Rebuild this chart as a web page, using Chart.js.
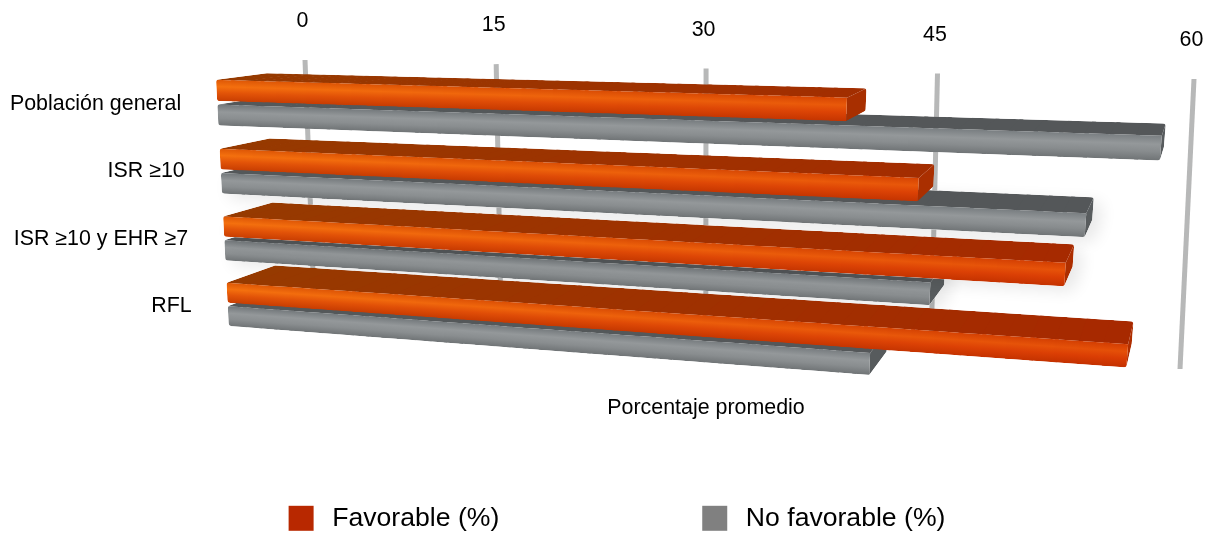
<!DOCTYPE html>
<html>
<head>
<meta charset="utf-8">
<style>html,body{margin:0;padding:0;background:#fff}canvas{display:block}</style>
<script src="https://cdn.jsdelivr.net/npm/chart.js@4/dist/chart.umd.js"></script>
</head>
<body>
<canvas id="c" width="1218" height="540"></canvas>
<script>
const categories = ['Población general', 'ISR ≥10', 'ISR ≥10 y EHR ≥7', 'RFL'];
const favorable = [40.5, 45, 54, 58];
const noFavorable = [59, 55, 46, 42.5];
const seriesNames = ['Favorable (%)', 'No favorable (%)'];
const axisTitle = 'Porcentaje promedio';
const axisMin = 0, axisMax = 60, axisStep = 15;

const FONT = 'Arial, "Liberation Sans", sans-serif';
const TEXT = 21.4;

// Unit-square to quad homography (Heckbert)
function quad(p00, p10, p11, p01, c) {
  const dx1 = p10[0]-p11[0], dx2 = p01[0]-p11[0], sx = p00[0]-p10[0]+p11[0]-p01[0];
  const dy1 = p10[1]-p11[1], dy2 = p01[1]-p11[1], sy = p00[1]-p10[1]+p11[1]-p01[1];
  const d = dx1*dy2-dx2*dy1;
  const g = (sx*dy2-dx2*sy)/d, h = (dx1*sy-sx*dy1)/d;
  const a = p10[0]-p00[0]+g*p10[0], b = p01[0]-p00[0]+h*p01[0], c0 = p00[0];
  const e = p10[1]-p00[1]+g*p10[1], f = p01[1]-p00[1]+h*p01[1], i = p00[1];
  return (t0,u) => {
    const t = c ? c*t0/(1-t0+c*t0) : t0;
    const w = g*t+h*u+1; return [(a*t+b*u+c0)/w, (e*t+f*u+i)/w];
  };
}
// View planes: front faces, back edges of the bars, back wall with the gridlines
const front = quad([215.4,68],[1183,93],[1157,410],[229.3,337],1.08);
const back  = quad([266.5,62],[1186,83],[1161,384],[277,317],1.08);
const wall  = quad([305,60],[1194,79],[1180,369],[314,300]);

const unit = (chart,px,py) => { const a = chart.chartArea; return [(px-a.left)/(a.right-a.left),(py-a.top)/(a.bottom-a.top)]; };
function mix(c1,c2,k){ return 'rgb('+c1.map((v,i)=>Math.round(v+(c2[i]-v)*k)).join(',')+')'; }
function poly(ctx,pts,fill){ ctx.beginPath(); pts.forEach((p,i)=> i?ctx.lineTo(p[0],p[1]):ctx.moveTo(p[0],p[1])); ctx.closePath(); ctx.fillStyle=fill; ctx.fill(); }
function roundedPath(ctx,pts,r){
  const n=pts.length, last=pts[n-1], first=pts[0];
  ctx.beginPath();
  ctx.moveTo((last[0]+first[0])/2,(last[1]+first[1])/2);
  for(let i=0;i<n;i++){ const p=pts[i], q=pts[(i+1)%n]; ctx.arcTo(p[0],p[1],q[0],q[1],r); }
  ctx.closePath();
}

const palette = [
  { stops:[0,.32,.62,1],
    L:[[222,88,6],[244,112,14],[226,84,8],[200,62,2]],
    R:[[210,60,2],[228,78,8],[218,60,4],[196,48,0]],
    top:[[150,58,0],[168,40,0]], cap:[[150,48,0],[176,46,0]] },
  { stops:[0,.35,.65,1],
    L:[[116,121,124],[148,152,154],[138,142,144],[112,116,118]],
    R:[[122,127,130],[148,152,154],[136,140,142],[112,116,118]],
    top:[[84,88,90],[84,87,89]], cap:[[86,90,92],[88,92,94]] }
];

function drawBar(ctx,chart,el,pal,soft){
  const [t1,ua] = unit(chart,el.x,el.y-el.height/2);
  const [,ub]   = unit(chart,el.x,el.y+el.height/2);
  const [t0]    = unit(chart,el.base,el.y);
  const N = 40, lap = 0.004;
  const outline = [front(t0,ub),front(t0,ua),back(t0,ua),back(t1,ua),back(t1,ub),front(t1,ub)];
  if(soft){
    ctx.save();
    ctx.shadowColor='rgba(0,0,0,0.09)'; ctx.shadowBlur=16; ctx.shadowOffsetX=8; ctx.shadowOffsetY=5;
    roundedPath(ctx,outline,3); ctx.fillStyle='#fff'; ctx.fill();
    ctx.restore();
  }
  ctx.save();
  roundedPath(ctx,outline,3); ctx.clip();
  for(let i=0;i<N;i++){
    const a=t0+(t1-t0)*i/N, b=Math.min(t1,t0+(t1-t0)*(i+1)/N+lap);
    poly(ctx,[front(a,ua),back(a,ua),back(b,ua),front(b,ua)],mix(pal.top[0],pal.top[1],(a+b)/2));
  }
  poly(ctx,[front(t1,ua),back(t1,ua),back(t1,ub),front(t1,ub)],mix(pal.cap[0],pal.cap[1],t1));
  for(let i=0;i<N;i++){
    const a=t0+(t1-t0)*i/N, b=Math.min(t1,t0+(t1-t0)*(i+1)/N+lap);
    const ta=front(a,ua), tb=front(b,ua), ba=front(a,ub), bb=front(b,ub);
    // gradient runs square to the bar, so the shading follows its slope
    const dx=tb[0]-ta[0], dy=tb[1]-ta[1], len=Math.hypot(dx,dy)||1, nx=-dy/len, ny=dx/len;
    const mx=(ta[0]+tb[0])/2, my=(ta[1]+tb[1])/2;
    const depth=(ba[0]-ta[0])*nx+(ba[1]-ta[1])*ny;
    const g=ctx.createLinearGradient(mx,my,mx+nx*depth,my+ny*depth);
    const m=(a+b)/2;
    pal.stops.forEach((s,j)=>g.addColorStop(s,mix(pal.L[j],pal.R[j],m)));
    poly(ctx,[ta,tb,bb,ba],g);
  }
  ctx.restore();
}

const scene = {
  id:'scene',
  beforeInit(chart){
    // The legend keeps a wide gap between its entries without growing in height
    const lg = chart.legend, fit = lg.fit.bind(lg), paint = lg._draw.bind(lg);
    lg.fit = function(){ fit(); this.height = 40; };
    lg._draw = function(){
      const c = chart.ctx; c.save(); c.translate(0, 5-this.options.labels.padding); paint(); c.restore();
    };
  },
  beforeDatasetsDraw(chart){
    const ctx = chart.ctx, xs = chart.scales.x;
    ctx.save();
    xs.ticks.forEach(tk=>{
      const [t] = unit(chart,xs.getPixelForValue(tk.value),0);
      const a = wall(t,0), b = wall(t,1);
      ctx.beginPath(); ctx.moveTo(a[0],a[1]); ctx.lineTo(b[0],b[1]);
      ctx.strokeStyle='#b7b8b8'; ctx.lineWidth=5; ctx.stroke();
    });
    const m0 = chart.getDatasetMeta(0), m1 = chart.getDatasetMeta(1);
    categories.forEach((_,i)=>{
      drawBar(ctx,chart,m1.data[i],palette[1],i===1||i===2);
      drawBar(ctx,chart,m0.data[i],palette[0],i===2);
    });
    ctx.restore();
    return false;
  }
};

const chart = new Chart(document.getElementById('c'),{
  type:'bar',
  plugins:[scene],
  data:{
    labels:categories,
    datasets:[
      {label:seriesNames[0],data:favorable,backgroundColor:'#bd3a00',xAxisID:'x',categoryPercentage:.713,barPercentage:.85},
      {label:seriesNames[1],data:noFavorable,backgroundColor:'#808080',xAxisID:'x',categoryPercentage:.713,barPercentage:.85}
    ]
  },
  options:{
    indexAxis:'y',
    responsive:false,
    animation:false,
    layout:{padding:{left:38,right:22,top:0,bottom:0}},
    plugins:{
      tooltip:{enabled:false},
      legend:{
        position:'bottom',
        labels:{
          boxWidth:25,boxHeight:25,padding:203,color:'#000',
          font:{family:FONT,size:26.6},
          generateLabels(ch){
            const g=ch.ctx.createLinearGradient(0,505,0,530);
            g.addColorStop(0,'#c24c00'); g.addColorStop(1,'#b82800');
            return seriesNames.map((s,i)=>({text:'\u2009'+s,fillStyle:i?'#808080':g,strokeStyle:'transparent',lineWidth:0,datasetIndex:i,hidden:false}));
          }
        }
      }
    },
    scales:{
      x:{
        position:'top',min:axisMin,max:axisMax,
        grid:{display:false},border:{display:false},
        ticks:{stepSize:axisStep,color:'#000',font:{family:FONT,size:TEXT},maxRotation:0},
        afterFit(s){
          s.height=68;
          const base=s._computeLabelItems.bind(s);
          s._computeLabelArea=()=>undefined;
          s._computeLabelItems=function(area){
            const items=base(area);
            items.forEach((it,i)=>{
              const [t]=unit(this.chart,this.getPixelForValue(this.ticks[i].value),0);
              const p=wall(t,0);
              it.options.translation=[p[0]-2.5,p[1]-38.5];
              it.options.textBaseline='middle';
              it.options.textAlign='center';
              it.textOffset=0;
            });
            return items;
          };
        }
      },
      x2:{
        type:'linear',position:'bottom',min:axisMin,max:axisMax,axis:'x',
        grid:{display:false},border:{display:false},ticks:{display:false},
        title:{display:true,text:axisTitle,color:'#000',font:{family:FONT,size:TEXT},padding:{top:0,bottom:79}},
        afterFit(s){ s.height=163; }
      },
      y:{
        grid:{display:false},border:{display:false},
        ticks:{color:'#000',font:{family:FONT,size:TEXT},autoSkip:false},
        afterFit(s){
          s.width=178;
          const base=s._computeLabelItems.bind(s);
          s._computeLabelArea=()=>undefined;
          s._computeLabelItems=function(area){
            const items=base(area);
            items.forEach((it,i)=>{
              const py=this.getPixelForTick(i);
              const [,u]=unit(this.chart,this.chart.chartArea.left,py);
              const p=front(0,u);
              it.options.translation=[p[0]-36,py+2.5];
              it.options.textAlign='right';
              it.options.textBaseline='middle';
              it.textOffset=0;
            });
            return items;
          };
        }
      }
    }
  }
});
</script>
</body>
</html>
